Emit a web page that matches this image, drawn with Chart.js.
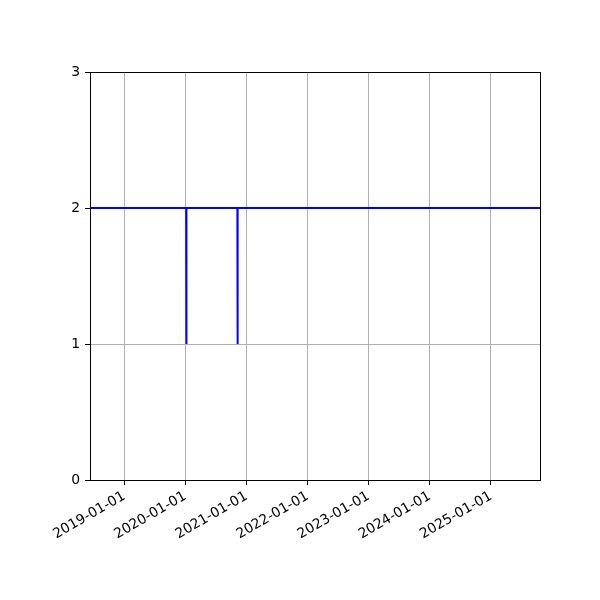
<!DOCTYPE html>
<html>
<head>
<meta charset="utf-8">
<script src="https://cdn.jsdelivr.net/npm/chart.js@4/dist/chart.umd.min.js"></script>
<style>
  html, body { margin: 0; padding: 0; background: #fff; }
  #wrap { width: 600px; height: 600px; }
</style>
</head>
<body>
<div id="wrap"><canvas id="chart"></canvas></div>
<script>
// data
const dates = ['2018-06-10', '2020-01-06', '2020-01-07', '2020-01-08', '2020-11-07', '2020-11-08', '2020-11-09', '2025-10-21'];
const values = [2, 2, 1, 2, 2, 1, 2, 2];
const xTickDates = ['2019-01-01', '2020-01-01', '2021-01-01', '2022-01-01', '2023-01-01', '2024-01-01', '2025-01-01'];
const yTicks = [0, 1, 2, 3];

const toMs = d => new Date(d + 'T00:00:00Z').getTime();
const points = dates.map((d, i) => ({ x: toMs(d), y: values[i] }));

// cadre noir autour de la zone de tracé (comme les spines matplotlib)
const frame = {
    id: 'frame',
    afterDraw(chart) {
        const { ctx, chartArea: a } = chart;
        ctx.save();
        ctx.strokeStyle = '#000';
        ctx.lineWidth = 1;
        ctx.strokeRect(Math.round(a.left) + 0.5, Math.round(a.top) + 0.5, Math.round(a.right - a.left), Math.round(a.bottom - a.top));
        ctx.restore();
    }
};

const font = { family: 'DejaVu Sans', size: 13.9 };

new Chart(document.getElementById('chart'), {
    type: 'line',
    data: {
        datasets: [{
            data: points,
            borderColor: '#0000ff',
            borderWidth: 2,
            pointRadius: 0,
            tension: 0,
            fill: false
        }]
    },
    options: {
        responsive: true,
        maintainAspectRatio: false,
        animation: false,
        events: [],
        layout: { padding: { top: 72, right: 60, left: 0, bottom: 0 } },
        plugins: { legend: { display: false }, tooltip: { enabled: false } },
        scales: {
            x: {
                type: 'linear',
                min: toMs(dates[0]),
                max: toMs(dates[dates.length - 1]),
                afterBuildTicks: s => { s.ticks = xTickDates.map(d => ({ value: toMs(d) })); },
                afterFit: s => { s.height = 120; },
                grid: { color: '#b0b0b0', lineWidth: 1, tickColor: '#000', tickLength: 5 },
                border: { display: false },
                ticks: {
                    color: '#000',
                    font,
                    padding: 3,
                    minRotation: 30,
                    maxRotation: 30,
                    autoSkip: false,
                    callback: v => new Date(v).toISOString().slice(0, 10)
                }
            },
            y: {
                min: yTicks[0],
                max: yTicks[yTicks.length - 1],
                afterBuildTicks: s => { s.ticks = yTicks.map(v => ({ value: v })); },
                afterFit: s => { s.width = 90; },
                grid: { color: '#b0b0b0', lineWidth: 1, tickColor: '#000', tickLength: 5 },
                border: { display: false },
                ticks: { color: '#000', font, padding: 5 }
            }
        }
    },
    plugins: [frame]
});
</script>
</body>
</html>
